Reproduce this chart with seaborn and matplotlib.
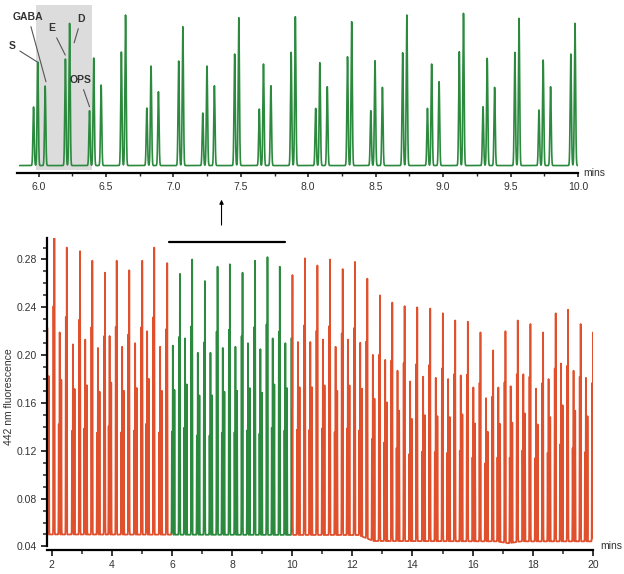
import numpy as np
import seaborn as sns
import matplotlib.pyplot as plt
from matplotlib.ticker import MultipleLocator, FormatStrFormatter

# ---- top panel: expanded view 6-10 min (green trace) ----
# injection times (first peak = OPS) and peak heights above baseline (relative units)
top_inject = [5.963, 6.378, 6.803, 7.218, 7.637, 8.055, 8.464, 8.884, 9.296, 9.711]
top_ops = [0.585, 0.548, 0.575, 0.525, 0.565, 0.572, 0.548, 0.572, 0.588, 0.555]
top_s = [1.035, 1.075, 0.995, 0.995, 1.015, 1.028, 1.048, 1.015, 1.072, 1.055]
top_gaba = [0.795, 0.805, 0.738, 0.798, 0.798, 0.788, 0.782, 0.838, 0.782, 0.788]
top_e = [1.065, 1.135, 1.045, 1.115, 1.132, 1.088, 1.128, 1.138, 1.132, 1.115]
top_d = [1.422, 1.505, 1.388, 1.478, 1.488, 1.438, 1.505, 1.522, 1.472, 1.422]
# migration of OPS, S, GABA, E, D after each injection (min)
peak_offsets = [0.0, 0.031, 0.086, 0.236, 0.267]

labels = ["S", "GABA", "E", "D", "OPS"]
label_text_xy = [(5.803, 1.195), (5.924, 1.485), (6.099, 1.372), (6.316, 1.465), (6.309, 0.855)]
label_peak_xy = [(5.988, 1.038), (6.055, 0.838), (6.198, 1.105), (6.264, 1.228), (6.378, 0.588)]

# ---- bottom panel: full run 2-20 min ----
# time of the tallest peak (D) of every injection and the heights of D and S peaks
bot_d_time = [2.086, 2.498, 2.940, 3.349, 3.771, 4.159, 4.578, 5.010, 5.409, 5.841,
              6.262, 6.671, 7.093, 7.515, 7.924, 8.346, 8.764, 9.176, 9.585, 10.007,
              10.425, 10.837, 11.256, 11.678, 12.086, 12.498, 12.917, 13.329, 13.738, 14.159,
              14.591, 15.010, 15.422, 15.841, 16.262, 16.684, 17.093, 17.502, 17.924, 18.346,
              18.764, 19.176, 19.595, 20.005]
bot_d = [0.302, 0.290, 0.287, 0.279, 0.269, 0.279, 0.271, 0.279, 0.290, 0.277,
         0.268, 0.280, 0.262, 0.274, 0.276, 0.269, 0.279, 0.282, 0.274, 0.267,
         0.281, 0.275, 0.280, 0.272, 0.278, 0.264, 0.250, 0.244, 0.241, 0.240,
         0.239, 0.235, 0.229, 0.228, 0.219, 0.204, 0.220, 0.229, 0.226, 0.219,
         0.235, 0.238, 0.226, 0.219]
bot_s = [0.223, 0.219, 0.209, 0.213, 0.206, 0.216, 0.207, 0.210, 0.220, 0.207,
         0.208, 0.214, 0.202, 0.202, 0.206, 0.207, 0.210, 0.205, 0.214, 0.210,
         0.211, 0.211, 0.213, 0.207, 0.213, 0.208, 0.200, 0.196, 0.187, 0.178,
         0.182, 0.181, 0.180, 0.183, 0.173, 0.164, 0.172, 0.175, 0.184, 0.172,
         0.180, 0.193, 0.187, 0.181]
# baseline level of the bottom trace
base_time = [1.84, 12.2, 12.7, 16.8, 17.2, 17.6, 20.02]
base_level = [0.0500, 0.0495, 0.0445, 0.0442, 0.0426, 0.0442, 0.0442]
green_span = [5.98, 10.0]
bar_span = [5.90, 9.75]
bar_level = 0.2945

RED = "#e0502c"
GREEN = "#2b8a3e"
TXT = "#333333"


def build_trace(t, base, centres, heights, width):
    y = base.copy()
    for c, h in zip(centres, heights):
        y += h * np.exp(-0.5 * ((t - c) / width) ** 2)
    return y


# top trace
t_top = np.arange(5.86, 10.0, 0.0005)
top_heights = [top_ops, top_s, top_gaba, top_e, top_d]
top_centres, top_h = [], []
for i, t0 in enumerate(top_inject):
    for k, off in enumerate(peak_offsets):
        top_centres.append(t0 + off)
        top_h.append(top_heights[k][i])
y_top = build_trace(t_top, np.zeros_like(t_top), top_centres, top_h, 0.0045)

# bottom trace: minor peaks scaled with the ratios seen in the expanded view
r_ops = np.mean(top_ops) / np.mean(top_s)
r_gaba = np.mean(top_gaba) / np.mean(top_s)
r_e = np.mean(top_e) / np.mean(top_d)
t_bot = np.arange(1.84, 20.02, 0.001)
base = np.interp(t_bot, base_time, base_level)
bot_centres, bot_h = [], []
for td, hd, hs in zip(bot_d_time, bot_d, bot_s):
    t0 = td - peak_offsets[-1]
    b = np.interp(td, base_time, base_level)
    s_up, d_up = hs - b, hd - b
    for off, h in zip(peak_offsets, [r_ops * s_up, s_up, r_gaba * s_up, r_e * d_up, d_up]):
        bot_centres.append(t0 + off)
        bot_h.append(h)
y_bot = build_trace(t_bot, base, bot_centres, bot_h, 0.005)

sns.set_style("white")
plt.rcParams["font.family"] = ["Liberation Sans", "DejaVu Sans"]

fig = plt.figure(figsize=(6.24, 5.74), dpi=100)
ax1 = fig.add_axes([0.0272, 0.698, 0.899, 0.2932])
ax2 = fig.add_axes([0.0748, 0.0418, 0.8762, 0.5436])

# ---- top panel ----
ax1.axvspan(5.983, 6.398, ymin=0.02, ymax=1.0, color="#dcdcdc", lw=0, zorder=0)
sns.lineplot(x=t_top, y=y_top, ax=ax1, color=GREEN, lw=1.2, estimator=None, sort=False)
ax1.set_xlim(5.84, 10.0)
ax1.set_ylim(-0.078, 1.605)
for side in ["left", "right", "top"]:
    ax1.spines[side].set_visible(False)
ax1.spines["bottom"].set_linewidth(1.6)
ax1.spines["bottom"].set_color("black")
ax1.set_yticks([])
ax1.xaxis.set_major_locator(MultipleLocator(0.5))
ax1.xaxis.set_minor_locator(MultipleLocator(0.25))
ax1.xaxis.set_major_formatter(FormatStrFormatter("%.1f"))
ax1.tick_params(axis="x", which="major", bottom=True, direction="out", length=3,
                width=1.2, pad=3, labelsize=7.5, labelcolor=TXT)
ax1.tick_params(axis="x", which="minor", bottom=True, direction="out", length=2, width=1)
ax1.set_xlabel("")
ax1.set_ylabel("")
ax1.text(1.01, 0.0, "mins", transform=ax1.transAxes, ha="left", va="center",
         fontsize=7.5, color=TXT)
for lab, txy, pxy in zip(labels, label_text_xy, label_peak_xy):
    ax1.annotate(lab, xy=pxy, xytext=txy, ha="center", va="center", fontsize=7.5,
                 fontweight="bold", color=TXT, annotation_clip=False,
                 arrowprops=dict(arrowstyle="-", color="#555555", lw=0.8,
                                 shrinkA=1, shrinkB=0))

# ---- bottom panel ----
red1 = t_bot <= green_span[0] + 0.001
green = (t_bot >= green_span[0]) & (t_bot <= green_span[1] + 0.001)
red2 = t_bot >= green_span[1]
for mask, col in [(red1, RED), (green, GREEN), (red2, RED)]:
    sns.lineplot(x=t_bot[mask], y=y_bot[mask], ax=ax2, color=col, lw=1.25,
                 estimator=None, sort=False)
ax2.set_xlim(1.83, 20.02)
ax2.set_ylim(0.037, 0.298)
for side in ["right", "top"]:
    ax2.spines[side].set_visible(False)
for side in ["left", "bottom"]:
    ax2.spines[side].set_linewidth(1.6)
    ax2.spines[side].set_color("black")
ax2.spines["left"].set_bounds(0.04, 0.298)
ax2.xaxis.set_major_locator(MultipleLocator(2))
ax2.xaxis.set_minor_locator(MultipleLocator(1))
ax2.yaxis.set_major_locator(MultipleLocator(0.04))
ax2.yaxis.set_minor_locator(MultipleLocator(0.01))
ax2.yaxis.set_major_formatter(FormatStrFormatter("%.2f"))
ax2.tick_params(axis="both", which="major", direction="out", length=4, width=1.3,
                pad=3, labelsize=7.5, labelcolor=TXT, bottom=True, left=True)
ax2.tick_params(axis="both", which="minor", direction="out", length=3, width=1.1,
                bottom=True, left=True)
ax2.set_xlabel("")
ax2.set_ylabel("442 nm fluorescence", fontsize=7.5, color=TXT)
ax2.yaxis.set_label_coords(-0.060, 0.49)
ax2.text(1.012, 0.012, "mins", transform=ax2.transAxes, ha="left", va="center",
         fontsize=7.5, color=TXT)
ax2.plot(bar_span, [bar_level, bar_level], color="black", lw=1.6, clip_on=False)

# arrow linking the two panels
ax2.annotate("", xy=(0.355, 0.657), xytext=(0.355, 0.603), xycoords="figure fraction",
             textcoords="figure fraction",
             arrowprops=dict(arrowstyle="-|>", color="black", lw=0.8, mutation_scale=6))

plt.savefig("out.png", dpi=100)
